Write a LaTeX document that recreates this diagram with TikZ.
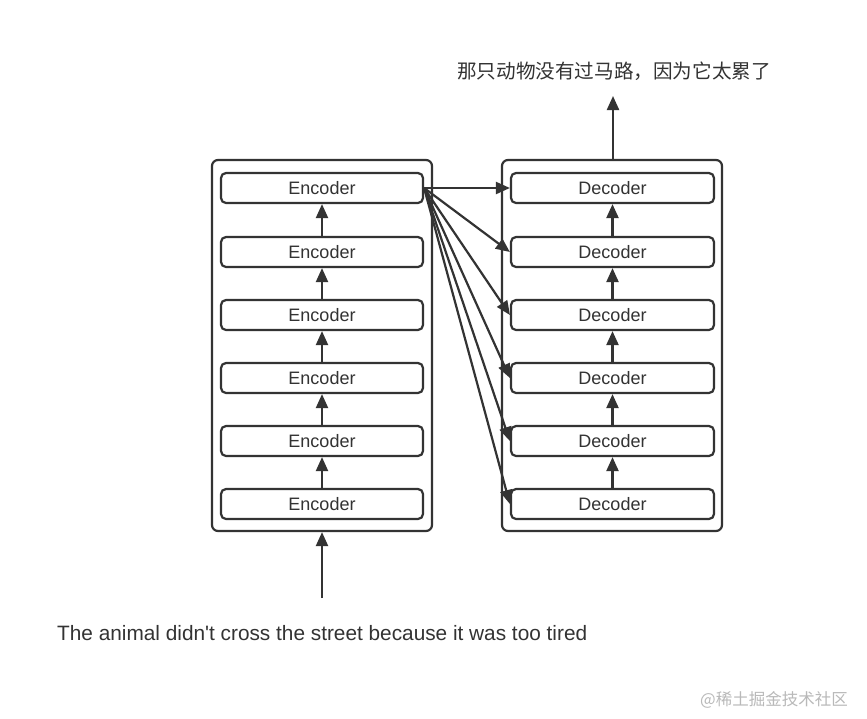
\documentclass[tikz,border=0pt]{standalone}
\usepackage{fontspec}
\setmainfont{Liberation Sans}
\newfontfamily\cjk{Noto Sans CJK SC}
\usetikzlibrary{arrows.meta}
\definecolor{lc}{HTML}{333333}
\begin{document}
\begin{tikzpicture}[x=1pt,y=-1pt,
  outerbox/.style={draw=lc, line width=2.2pt, rounded corners=6pt, minimum width=220pt, minimum height=371pt, inner sep=0pt},
  block/.style={draw=lc, line width=2.2pt, rounded corners=5pt, minimum height=30pt, inner sep=0pt, text=lc, font=\fontsize{18}{20}\selectfont},
  arr/.style={draw=lc, line width=2.2pt, -{Triangle[length=14pt,width=12pt]}},
  lbl/.style={text=lc, inner sep=0pt}]
\fill[white] (0,0) rectangle (867,718);
\useasboundingbox (0,0) rectangle (867,718);
% outer boxes
\node[outerbox] (E) at (322,345.5) {};
\node[outerbox] (D) at (612,345.5) {};
% encoder and decoder blocks
\foreach \i/\y in {1/504,2/441,3/378,4/315,5/252,6/188}{
  \node[block, minimum width=202pt] (e\i) at (322,\y) {Encoder};
  \node[block, minimum width=203pt] (d\i) at (612.5,\y) {Decoder};
}
% vertical arrows
\foreach \a/\b in {1/2,2/3,3/4,4/5,5/6}{
  \draw[arr] (e\a.north) -- (e\b.south);
  \draw[arr] (d\a.north) -- (d\b.south);
}
% cross arrows
\foreach \k in {1,...,6}{
  \draw[arr] (e6.east) -- (d\k.west);
}
% input / output
\coordinate (in) at (322,598);
\coordinate (out) at (613,96);
\draw[arr] (in) -- (E.south);
\draw[arr] (D.north -| out) -- (out);
\node[lbl, anchor=west, font=\fontsize{20.8}{23}\selectfont] (src) at (57,633) {The animal didn\textquotesingle t cross the street because it was too tired};
\node[lbl, anchor=west, font=\cjk\fontsize{19.6}{22}\selectfont] (tgt) at (457,71) {那只动物没有过马路，因为它太累了};
\node[anchor=east, inner sep=0pt, text=gray!55, font=\cjk\fontsize{16.5}{18}\selectfont] (wm) at (848,700) {@稀土掘金技术社区};
\end{tikzpicture}
\end{document}
